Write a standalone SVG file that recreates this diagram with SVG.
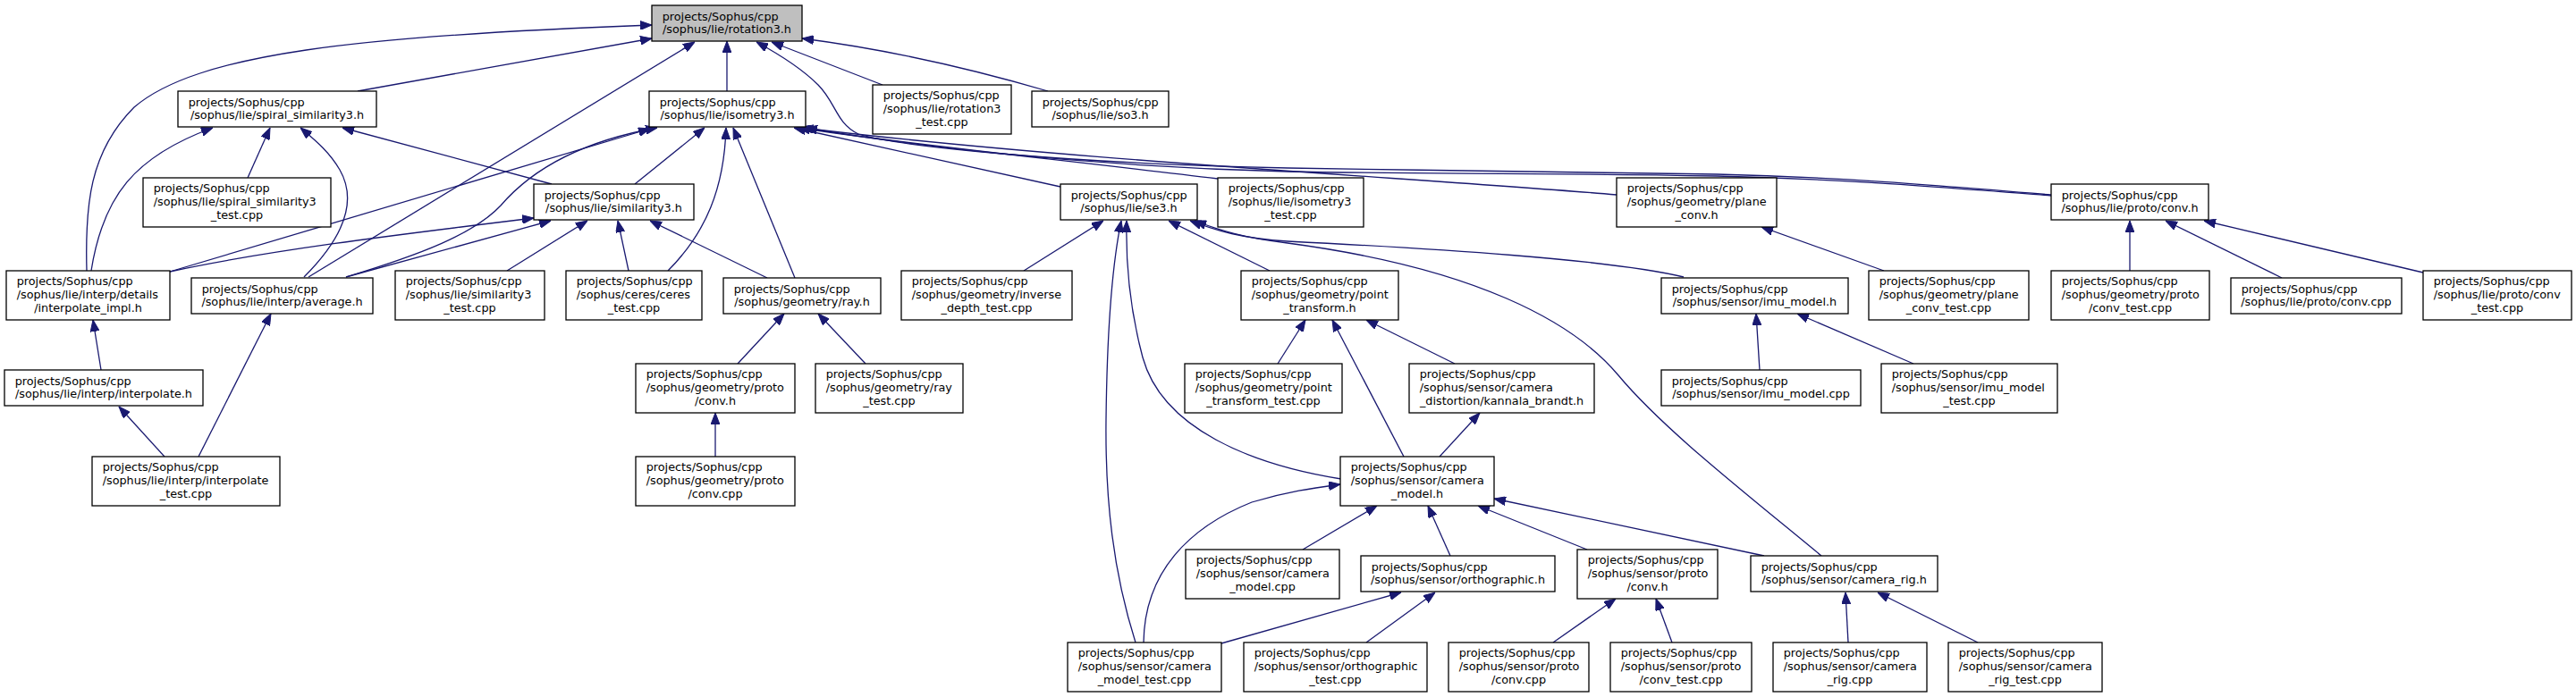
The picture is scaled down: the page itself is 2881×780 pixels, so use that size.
<svg xmlns="http://www.w3.org/2000/svg" width="2881" height="780" viewBox="0 0 2881 780">
<defs>
<marker id="ah" viewBox="0 0 13 10" refX="13" refY="5" markerWidth="13" markerHeight="10" orient="auto" markerUnits="userSpaceOnUse"><path d="M0,0 L13,5 L0,10 Z" fill="#191970" stroke="#191970" stroke-width="1"/></marker>
</defs>
<style>
.n rect{fill:#fff;stroke:#000;stroke-width:1.3}
.n text{font-family:"DejaVu Sans",sans-serif;font-size:12.8px;fill:#000}
.n text.m{text-anchor:middle}
.e path{fill:none;stroke:#191970;stroke-width:1.3;marker-end:url(#ah)}
</style>
<rect width="2881" height="780" fill="#fff"/>
<g id="edges" class="e">
<path d="M400,102 L729,43"/>
<path d="M97,303 C95,230 100,170 150,120 C220,60 400,40 729,28"/>
<path d="M345,310 L777,47"/>
<path d="M813,102 L813,46"/>
<path d="M987,95 L863,47"/>
<path d="M1172,102 C1080,75 990,55 897,43"/>
<path d="M2294,218 C2150,206 2050,198 1920,195 C1700,191 1600,191 1440,188 C1200,183 1010,165 960,150 C935,138 935,115 915,95 C895,75 870,60 846,47"/>
<path d="M2294,219 C2150,208 2050,200 1920,197 C1700,193 1600,195 1440,192 C1200,186 1000,160 901,143"/>
<path d="M1808,218 C1600,200 1200,180 897,143"/>
<path d="M1362,200 C1200,180 1000,160 893,143"/>
<path d="M1186,209 L888,143"/>
<path d="M190,304 L727,144"/>
<path d="M387,310 C470,285 530,262 560,230 C590,195 640,160 735,143"/>
<path d="M387,310 L616,247"/>
<path d="M190,304 C300,280 450,262 597,244"/>
<path d="M102,303 C115,220 150,175 238,143"/>
<path d="M277,199 L302,143"/>
<path d="M340,310 C385,265 400,225 380,190 C367,168 350,155 336,143"/>
<path d="M617,206 L383,143"/>
<path d="M567,303 L657,247"/>
<path d="M703,303 L691,247"/>
<path d="M858,311 L727,247"/>
<path d="M710,206 L788,143"/>
<path d="M747,303 C790,260 810,210 812,143"/>
<path d="M889,311 L820,143"/>
<path d="M825,407 L877,351"/>
<path d="M968,407 L915,351"/>
<path d="M800,511 L800,462"/>
<path d="M113,414 L104,358"/>
<path d="M184,511 L133,455"/>
<path d="M222,511 L303,351"/>
<path d="M1145,303 L1234,247"/>
<path d="M1270,719 C1245,640 1236,560 1237,470 C1238,380 1243,300 1254,247"/>
<path d="M1500,536 C1400,520 1300,480 1278,400 C1262,340 1259,290 1260,247"/>
<path d="M1420,303 L1307,247"/>
<path d="M1883,310 C1800,290 1600,278 1440,270 C1390,267 1360,258 1331,247"/>
<path d="M2037,622 C1950,550 1860,480 1810,420 C1760,360 1650,300 1440,272 C1390,266 1365,258 1336,247"/>
<path d="M1429,407 L1460,358"/>
<path d="M1570,511 L1490,358"/>
<path d="M1627,407 L1528,358"/>
<path d="M1610,511 L1655,462"/>
<path d="M1279,719 C1280,640 1330,590 1400,562 C1440,550 1470,546 1499,542"/>
<path d="M1457,615 L1540,566"/>
<path d="M1622,622 L1597,566"/>
<path d="M1775,615 L1653,566"/>
<path d="M1973,622 L1671,558"/>
<path d="M1366,720 L1567,663"/>
<path d="M1528,719 L1605,663"/>
<path d="M1737,719 L1807,670"/>
<path d="M1870,719 L1852,670"/>
<path d="M2067,719 L2064,663"/>
<path d="M2212,719 L2100,663"/>
<path d="M1968,414 L1964,351"/>
<path d="M2140,407 L2010,351"/>
<path d="M2107,303 L1970,254"/>
<path d="M2382,303 L2382,247"/>
<path d="M2552,311 L2422,247"/>
<path d="M2710,305 L2465,247"/>
</g>
<g id="n-rotation3" class="n"><rect x="729" y="6" width="168" height="40" style="fill:#bfbfbf"/><text x="740.7" y="22.6">projects/Sophus/cpp</text><text class="m" x="813" y="37">/sophus/lie/rotation3.h</text></g>
<g id="n-spiral" class="n"><rect x="199" y="102" width="222" height="40"/><text x="210.7" y="118.6">projects/Sophus/cpp</text><text class="m" x="310" y="133">/sophus/lie/spiral_similarity3.h</text></g>
<g id="n-isometry3" class="n"><rect x="726" y="102" width="175" height="40"/><text x="737.7" y="118.6">projects/Sophus/cpp</text><text class="m" x="813.5" y="133">/sophus/lie/isometry3.h</text></g>
<g id="n-rot3test" class="n"><rect x="976" y="95" width="155" height="55"/><text x="987.7" y="111.3">projects/Sophus/cpp</text><text x="987.7" y="126.3">/sophus/lie/rotation3</text><text class="m" x="1053.5" y="141.3">_test.cpp</text></g>
<g id="n-so3" class="n"><rect x="1154" y="102" width="153" height="40"/><text x="1165.7" y="118.6">projects/Sophus/cpp</text><text class="m" x="1230.5" y="133">/sophus/lie/so3.h</text></g>
<g id="n-spiraltest" class="n"><rect x="160" y="199" width="210" height="55"/><text x="171.7" y="215.3">projects/Sophus/cpp</text><text x="171.7" y="230.3">/sophus/lie/spiral_similarity3</text><text class="m" x="265" y="245.3">_test.cpp</text></g>
<g id="n-similarity3" class="n"><rect x="597" y="206" width="179" height="40"/><text x="608.7" y="222.6">projects/Sophus/cpp</text><text class="m" x="686.5" y="237">/sophus/lie/similarity3.h</text></g>
<g id="n-se3" class="n"><rect x="1186" y="206" width="153" height="40"/><text x="1197.7" y="222.6">projects/Sophus/cpp</text><text class="m" x="1262.5" y="237">/sophus/lie/se3.h</text></g>
<g id="n-iso3test" class="n"><rect x="1362" y="199" width="163" height="55"/><text x="1373.7" y="215.3">projects/Sophus/cpp</text><text x="1373.7" y="230.3">/sophus/lie/isometry3</text><text class="m" x="1443.5" y="245.3">_test.cpp</text></g>
<g id="n-planeconv" class="n"><rect x="1808" y="199" width="179" height="55"/><text x="1819.7" y="215.3">projects/Sophus/cpp</text><text x="1819.7" y="230.3">/sophus/geometry/plane</text><text class="m" x="1897.5" y="245.3">_conv.h</text></g>
<g id="n-lieconvh" class="n"><rect x="2294" y="206" width="176" height="40"/><text x="2305.7" y="222.6">projects/Sophus/cpp</text><text class="m" x="2382" y="237">/sophus/lie/proto/conv.h</text></g>
<g id="n-interpimpl" class="n"><rect x="7" y="303" width="183" height="55"/><text x="18.7" y="319.3">projects/Sophus/cpp</text><text x="18.7" y="334.3">/sophus/lie/interp/details</text><text class="m" x="98.5" y="349.3">/interpolate_impl.h</text></g>
<g id="n-average" class="n"><rect x="214" y="311" width="203" height="40"/><text x="225.7" y="327.6">projects/Sophus/cpp</text><text class="m" x="315.5" y="342">/sophus/lie/interp/average.h</text></g>
<g id="n-sim3test" class="n"><rect x="442" y="303" width="167" height="55"/><text x="453.7" y="319.3">projects/Sophus/cpp</text><text x="453.7" y="334.3">/sophus/lie/similarity3</text><text class="m" x="525.5" y="349.3">_test.cpp</text></g>
<g id="n-cerestest" class="n"><rect x="633" y="303" width="152" height="55"/><text x="644.7" y="319.3">projects/Sophus/cpp</text><text x="644.7" y="334.3">/sophus/ceres/ceres</text><text class="m" x="709" y="349.3">_test.cpp</text></g>
<g id="n-ray" class="n"><rect x="809" y="311" width="176" height="40"/><text x="820.7" y="327.6">projects/Sophus/cpp</text><text class="m" x="897" y="342">/sophus/geometry/ray.h</text></g>
<g id="n-invdepth" class="n"><rect x="1008" y="303" width="191" height="55"/><text x="1019.7" y="319.3">projects/Sophus/cpp</text><text x="1019.7" y="334.3">/sophus/geometry/inverse</text><text class="m" x="1103.5" y="349.3">_depth_test.cpp</text></g>
<g id="n-pointtransform" class="n"><rect x="1388" y="303" width="176" height="55"/><text x="1399.7" y="319.3">projects/Sophus/cpp</text><text x="1399.7" y="334.3">/sophus/geometry/point</text><text class="m" x="1476" y="349.3">_transform.h</text></g>
<g id="n-imumodelh" class="n"><rect x="1858" y="311" width="209" height="40"/><text x="1869.7" y="327.6">projects/Sophus/cpp</text><text class="m" x="1962.5" y="342">/sophus/sensor/imu_model.h</text></g>
<g id="n-planeconvtest" class="n"><rect x="2090" y="303" width="179" height="55"/><text x="2101.7" y="319.3">projects/Sophus/cpp</text><text x="2101.7" y="334.3">/sophus/geometry/plane</text><text class="m" x="2179.5" y="349.3">_conv_test.cpp</text></g>
<g id="n-geoconvtest" class="n"><rect x="2294" y="303" width="177" height="55"/><text x="2305.7" y="319.3">projects/Sophus/cpp</text><text x="2305.7" y="334.3">/sophus/geometry/proto</text><text class="m" x="2382.5" y="349.3">/conv_test.cpp</text></g>
<g id="n-lieconvcpp" class="n"><rect x="2495" y="311" width="191" height="40"/><text x="2506.7" y="327.6">projects/Sophus/cpp</text><text class="m" x="2590.5" y="342">/sophus/lie/proto/conv.cpp</text></g>
<g id="n-lieconvtest" class="n"><rect x="2710" y="303" width="166" height="55"/><text x="2721.7" y="319.3">projects/Sophus/cpp</text><text x="2721.7" y="334.3">/sophus/lie/proto/conv</text><text class="m" x="2793" y="349.3">_test.cpp</text></g>
<g id="n-interph" class="n"><rect x="5" y="414" width="222" height="40"/><text x="16.7" y="430.6">projects/Sophus/cpp</text><text class="m" x="116" y="445">/sophus/lie/interp/interpolate.h</text></g>
<g id="n-geoconvh" class="n"><rect x="711" y="407" width="178" height="55"/><text x="722.7" y="423.3">projects/Sophus/cpp</text><text x="722.7" y="438.3">/sophus/geometry/proto</text><text class="m" x="800" y="453.3">/conv.h</text></g>
<g id="n-raytest" class="n"><rect x="912" y="407" width="165" height="55"/><text x="923.7" y="423.3">projects/Sophus/cpp</text><text x="923.7" y="438.3">/sophus/geometry/ray</text><text class="m" x="994.5" y="453.3">_test.cpp</text></g>
<g id="n-pttest" class="n"><rect x="1325" y="407" width="176" height="55"/><text x="1336.7" y="423.3">projects/Sophus/cpp</text><text x="1336.7" y="438.3">/sophus/geometry/point</text><text class="m" x="1413" y="453.3">_transform_test.cpp</text></g>
<g id="n-kannala" class="n"><rect x="1576" y="407" width="207" height="55"/><text x="1587.7" y="423.3">projects/Sophus/cpp</text><text x="1587.7" y="438.3">/sophus/sensor/camera</text><text class="m" x="1679.5" y="453.3">_distortion/kannala_brandt.h</text></g>
<g id="n-imucpp" class="n"><rect x="1858" y="414" width="223" height="40"/><text x="1869.7" y="430.6">projects/Sophus/cpp</text><text class="m" x="1969.5" y="445">/sophus/sensor/imu_model.cpp</text></g>
<g id="n-imutest" class="n"><rect x="2104" y="407" width="197" height="55"/><text x="2115.7" y="423.3">projects/Sophus/cpp</text><text x="2115.7" y="438.3">/sophus/sensor/imu_model</text><text class="m" x="2202.5" y="453.3">_test.cpp</text></g>
<g id="n-interptest" class="n"><rect x="103" y="511" width="210" height="55"/><text x="114.7" y="527.3">projects/Sophus/cpp</text><text x="114.7" y="542.3">/sophus/lie/interp/interpolate</text><text class="m" x="208" y="557.3">_test.cpp</text></g>
<g id="n-geoconvcpp" class="n"><rect x="711" y="511" width="178" height="55"/><text x="722.7" y="527.3">projects/Sophus/cpp</text><text x="722.7" y="542.3">/sophus/geometry/proto</text><text class="m" x="800" y="557.3">/conv.cpp</text></g>
<g id="n-cammodelh" class="n"><rect x="1499" y="511" width="172" height="55"/><text x="1510.7" y="527.3">projects/Sophus/cpp</text><text x="1510.7" y="542.3">/sophus/sensor/camera</text><text class="m" x="1585" y="557.3">_model.h</text></g>
<g id="n-cammodelcpp" class="n"><rect x="1326" y="615" width="172" height="55"/><text x="1337.7" y="631.3">projects/Sophus/cpp</text><text x="1337.7" y="646.3">/sophus/sensor/camera</text><text class="m" x="1412" y="661.3">_model.cpp</text></g>
<g id="n-orthoh" class="n"><rect x="1522" y="622" width="217" height="40"/><text x="1533.7" y="638.6">projects/Sophus/cpp</text><text class="m" x="1630.5" y="653">/sophus/sensor/orthographic.h</text></g>
<g id="n-sensconvh" class="n"><rect x="1764" y="615" width="157" height="55"/><text x="1775.7" y="631.3">projects/Sophus/cpp</text><text x="1775.7" y="646.3">/sophus/sensor/proto</text><text class="m" x="1842.5" y="661.3">/conv.h</text></g>
<g id="n-righ" class="n"><rect x="1958" y="622" width="209" height="40"/><text x="1969.7" y="638.6">projects/Sophus/cpp</text><text class="m" x="2062.5" y="653">/sophus/sensor/camera_rig.h</text></g>
<g id="n-cammodeltest" class="n"><rect x="1194" y="719" width="172" height="55"/><text x="1205.7" y="735.3">projects/Sophus/cpp</text><text x="1205.7" y="750.3">/sophus/sensor/camera</text><text class="m" x="1280" y="765.3">_model_test.cpp</text></g>
<g id="n-orthotest" class="n"><rect x="1391" y="719" width="205" height="55"/><text x="1402.7" y="735.3">projects/Sophus/cpp</text><text x="1402.7" y="750.3">/sophus/sensor/orthographic</text><text class="m" x="1493.5" y="765.3">_test.cpp</text></g>
<g id="n-sensconvcpp" class="n"><rect x="1620" y="719" width="157" height="55"/><text x="1631.7" y="735.3">projects/Sophus/cpp</text><text x="1631.7" y="750.3">/sophus/sensor/proto</text><text class="m" x="1698.5" y="765.3">/conv.cpp</text></g>
<g id="n-sensconvtest" class="n"><rect x="1801" y="719" width="158" height="55"/><text x="1812.7" y="735.3">projects/Sophus/cpp</text><text x="1812.7" y="750.3">/sophus/sensor/proto</text><text class="m" x="1880" y="765.3">/conv_test.cpp</text></g>
<g id="n-rigcpp" class="n"><rect x="1983" y="719" width="172" height="55"/><text x="1994.7" y="735.3">projects/Sophus/cpp</text><text x="1994.7" y="750.3">/sophus/sensor/camera</text><text class="m" x="2069" y="765.3">_rig.cpp</text></g>
<g id="n-rigtest" class="n"><rect x="2179" y="719" width="172" height="55"/><text x="2190.7" y="735.3">projects/Sophus/cpp</text><text x="2190.7" y="750.3">/sophus/sensor/camera</text><text class="m" x="2265" y="765.3">_rig_test.cpp</text></g>
</svg>
